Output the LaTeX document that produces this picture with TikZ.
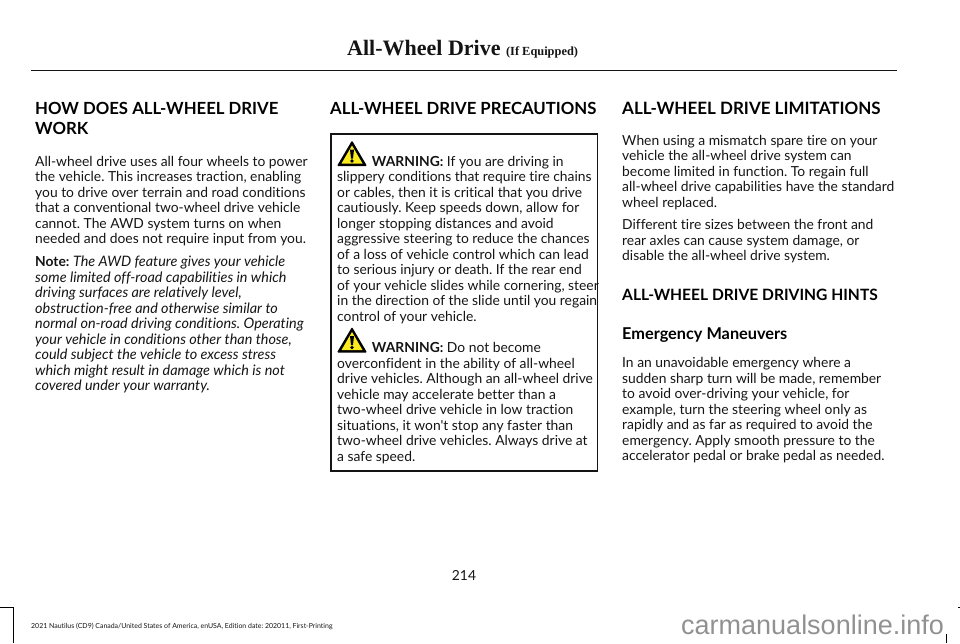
\documentclass[tikz,border=0pt]{standalone}
\usepackage{fontspec}
\newfontfamily\bodyfont{Lato}[Ligatures=NoCommon]
\newfontfamily\titlefont{Liberation Serif}
\newfontfamily\markfont{Liberation Sans}
\usetikzlibrary{arrows}
\definecolor{inkblack}{RGB}{20,20,20}
\definecolor{signyellow}{RGB}{250,235,30}
\definecolor{markgray}{RGB}{145,145,145}
\newcommand{\noteit}[1]{{\fontsize{14.4}{15.5}\selectfont\itshape #1}}
\tikzset{
    bodytext/.style={anchor=north west, inner sep=0pt, align=left, text=inkblack,
        font=\bodyfont\frenchspacing\fontsize{13.85}{15.5}\selectfont},
    headtext/.style={anchor=base west, inner sep=0pt, text=black,
        font=\bodyfont\bfseries\fontsize{16.75}{20}\selectfont},
    warnicon/.pic={
        \fill [black, rounded corners=1pt] (0,25.5) -- (15,0) -- (30,25.5) -- cycle;
        \fill [signyellow] (4.5,23) -- (15,5) -- (25.5,23) -- cycle;
        \fill [black] (13,9) -- (17,9) -- (16,18) -- (14,18) -- cycle;
        \fill [black] (15,20.5) circle (1.8);
    }
}
\begin{document}
\begin{tikzpicture}[x=1pt, y=-1pt]
        \useasboundingbox (0,0) rectangle (960,643);

        \draw [inkblack, line width=0.9pt] (31,70) -- (897,70);
        \node [anchor=base west, inner sep=0pt, text=inkblack] (title) at (347,55)
            {\titlefont\bfseries\fontsize{22}{26}\selectfont All-Wheel Drive {\fontsize{12.4}{14}\selectfont (If Equipped)}};

        \node [headtext] (howhead) at (35,114.5) {HOW DOES ALL-WHEEL DRIVE};
        \node [headtext] (workhead) at (35,134.5) {WORK};
        \node [bodytext] (intro) at (35,156) {All-wheel drive uses all four wheels to power\\
            the vehicle. This increases traction, enabling\\
            you to drive over terrain and road conditions\\
            that a conventional two-wheel drive vehicle\\
            cannot. The AWD system turns on when\\
            needed and does not require input from you.};
        \node [bodytext] (note) at (35,256) {\textbf{Note:} \noteit{The AWD feature gives your vehicle}\\
            \noteit{some limited off-road capabilities in which}\\
            \noteit{driving surfaces are relatively level,}\\
            \noteit{obstruction-free and otherwise similar to}\\
            \noteit{normal on-road driving conditions. Operating}\\
            \noteit{your vehicle in conditions other than those,}\\
            \noteit{could subject the vehicle to excess stress}\\
            \noteit{which might result in damage which is not}\\
            \noteit{covered under your warranty.}};

        \node [headtext] (precahead) at (330,114.5) {ALL-WHEEL DRIVE PRECAUTIONS};
        \draw [inkblack, line width=1.6pt] (331,134) rectangle (597.5,471);
        \pic at (337,140.5) {warnicon};
        \node [bodytext] (warnone) at (337,156) {\hspace*{34.7pt}\textbf{WARNING:} If you are driving in\\
            slippery conditions that require tire chains\\
            or cables, then it is critical that you drive\\
            cautiously. Keep speeds down, allow for\\
            longer stopping distances and avoid\\
            aggressive steering to reduce the chances\\
            of a loss of vehicle control which can lead\\
            to serious injury or death. If the rear end\\
            of your vehicle slides while cornering, steer\\
            in the direction of the slide until you regain\\
            control of your vehicle.};
        \pic at (337,327) {warnicon};
        \node [bodytext] (warntwo) at (337,342.5) {\hspace*{34.7pt}\textbf{WARNING:} Do not become\\
            overconfident in the ability of all-wheel\\
            drive vehicles. Although an all-wheel drive\\
            vehicle may accelerate better than a\\
            two-wheel drive vehicle in low traction\\
            situations, it won't stop any faster than\\
            two-wheel drive vehicles. Always drive at\\
            a safe speed.};

        \node [headtext, font=\bodyfont\bfseries\fontsize{17}{20}\selectfont] (limithead) at (622,114.5) {ALL-WHEEL DRIVE LIMITATIONS};
        \node [bodytext] (limitone) at (622,135) {When using a mismatch spare tire on your\\
            vehicle the all-wheel drive system can\\
            become limited in function. To regain full\\
            all-wheel drive capabilities have the standard\\
            wheel replaced.};
        \node [bodytext] (limittwo) at (622,219.5) {Different tire sizes between the front and\\
            rear axles can cause system damage, or\\
            disable the all-wheel drive system.};
        \node [headtext, font=\bodyfont\bfseries\fontsize{15.6}{20}\selectfont] (hintshead) at (622,300) {ALL-WHEEL DRIVE DRIVING HINTS};
        \node [headtext, font=\bodyfont\bfseries\fontsize{16.3}{18}\selectfont] (emerghead) at (622,339) {Emergency Maneuvers};
        \node [bodytext] (emerg) at (622,357.5) {In an unavoidable emergency where a\\
            sudden sharp turn will be made, remember\\
            to avoid over-driving your vehicle, for\\
            example, turn the steering wheel only as\\
            rapidly and as far as required to avoid the\\
            emergency. Apply smooth pressure to the\\
            accelerator pedal or brake pedal as needed.};

        \node [bodytext, anchor=base] (pagenum) at (464,580) {214};
        \node [anchor=base west, inner sep=0pt, text=inkblack, font=\bodyfont\frenchspacing\fontsize{6.95}{9}\selectfont] (footer) at (31,628)
            {2021 Nautilus (CD9) Canada/United States of America, enUSA, Edition date: 202011, First-Printing};
        \node [anchor=base west, inner sep=0pt, text=markgray, font=\markfont\fontsize{27}{30}\selectfont] (site) at (681,634) {carmanualsonline.info};

        \draw [black, thick] (0,607) -- (13.5,607) -- (13.5,643);
        \draw [black, thick] (946,634) -- (946,643);
        \draw [black, thick] (958,607) -- (960,607);
        \end{tikzpicture}
\end{document}
